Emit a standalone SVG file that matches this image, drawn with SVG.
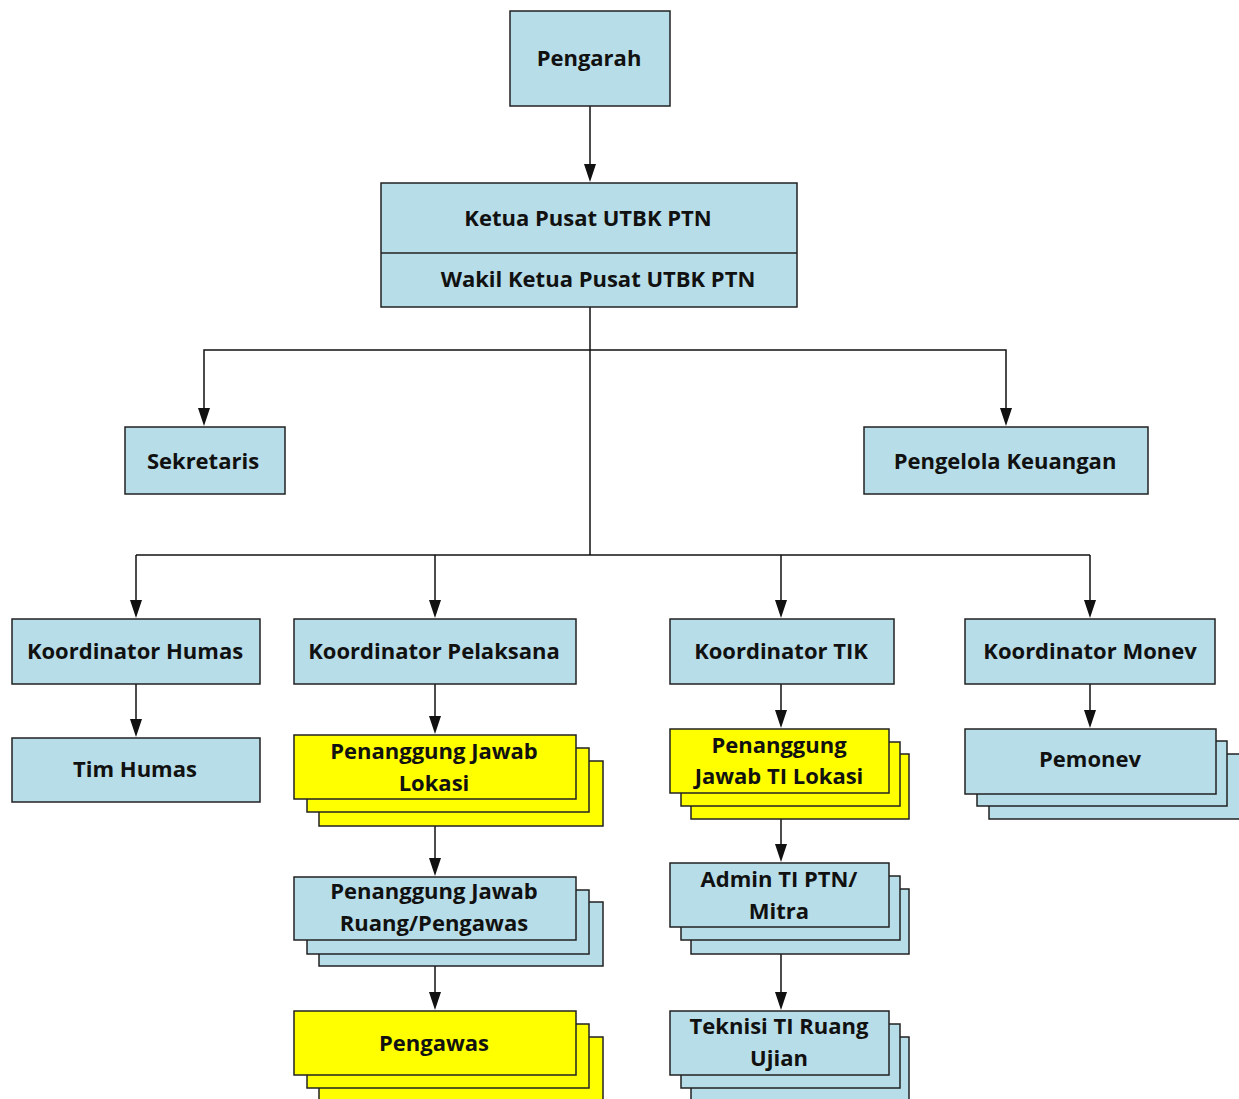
<svg xmlns="http://www.w3.org/2000/svg" width="1239" height="1099" viewBox="0 0 1239 1099">
  <style>
    .box { fill: #b7dde8; stroke: #222; stroke-width: 1.5; }
    .yel { fill: #ffff00; stroke: #222; stroke-width: 1.5; }
    .lbl { font-family: "Open Sans", "Liberation Sans", sans-serif; font-weight: bold; font-size: 22px; fill: #111; text-anchor: middle; dominant-baseline: central; }
    .wire { fill: none; stroke: #111; stroke-width: 1.5; }
  </style>

  <!-- connectors -->
  <g id="connectors" class="wire">
    <line x1="590" y1="106" x2="590" y2="166"/>
    <line x1="590" y1="307" x2="590" y2="555"/>
    <polyline points="204,410 204,350 1006,350 1006,410"/>
    <polyline points="136,555 1090,555"/>
    <line x1="136" y1="555" x2="136" y2="602"/>
    <line x1="435" y1="555" x2="435" y2="602"/>
    <line x1="781" y1="555" x2="781" y2="602"/>
    <line x1="1090" y1="555" x2="1090" y2="602"/>
    <line x1="136" y1="684" x2="136" y2="721"/>
    <line x1="435" y1="684" x2="435" y2="718"/>
    <line x1="435" y1="826" x2="435" y2="860"/>
    <line x1="435" y1="966" x2="435" y2="994"/>
    <line x1="781" y1="684" x2="781" y2="712"/>
    <line x1="781" y1="819" x2="781" y2="846"/>
    <line x1="781" y1="954" x2="781" y2="994"/>
    <line x1="1090" y1="684" x2="1090" y2="712"/>
  </g>
  <!-- arrowheads -->
  <g id="heads" fill="#111">
    <path d="M584,164 L596,164 L590,182 Z"/>
    <path d="M198,408 L210,408 L204,426 Z"/>
    <path d="M1000,408 L1012,408 L1006,426 Z"/>
    <path d="M130,600 L142,600 L136,618 Z"/>
    <path d="M429,600 L441,600 L435,618 Z"/>
    <path d="M775,600 L787,600 L781,618 Z"/>
    <path d="M1084,600 L1096,600 L1090,618 Z"/>
    <path d="M130,719 L142,719 L136,737 Z"/>
    <path d="M429,716 L441,716 L435,734 Z"/>
    <path d="M429,858 L441,858 L435,876 Z"/>
    <path d="M429,992 L441,992 L435,1010 Z"/>
    <path d="M775,710 L787,710 L781,728 Z"/>
    <path d="M775,844 L787,844 L781,862 Z"/>
    <path d="M775,992 L787,992 L781,1010 Z"/>
    <path d="M1084,710 L1096,710 L1090,728 Z"/>
  </g>

  <g id="pengarah">
    <rect class="box" x="510" y="11" width="160" height="95"/>
    <text class="lbl" x="589" y="57">Pengarah</text>
  </g>

  <g id="ketua">
    <rect class="box" x="381" y="183" width="416" height="124"/>
    <line x1="381" y1="253" x2="797" y2="253" stroke="#222" stroke-width="1.5"/>
    <text class="lbl" x="588" y="217">Ketua Pusat UTBK PTN</text>
    <text class="lbl" x="598" y="278">Wakil Ketua Pusat UTBK PTN</text>
  </g>

  <g id="sekretaris">
    <rect class="box" x="125" y="427" width="160" height="67"/>
    <text class="lbl" x="203" y="460">Sekretaris</text>
  </g>

  <g id="keuangan">
    <rect class="box" x="864" y="427" width="284" height="67"/>
    <text class="lbl" x="1005" y="460">Pengelola Keuangan</text>
  </g>

  <g id="koord-humas">
    <rect class="box" x="12" y="619" width="248" height="65"/>
    <text class="lbl" x="135" y="650">Koordinator Humas</text>
  </g>

  <g id="koord-pelaksana">
    <rect class="box" x="294" y="619" width="282" height="65"/>
    <text class="lbl" x="434" y="650">Koordinator Pelaksana</text>
  </g>

  <g id="koord-tik">
    <rect class="box" x="670" y="619" width="224" height="65"/>
    <text class="lbl" x="781" y="650">Koordinator TIK</text>
  </g>

  <g id="koord-monev">
    <rect class="box" x="965" y="619" width="250" height="65"/>
    <text class="lbl" x="1090" y="650">Koordinator Monev</text>
  </g>

  <g id="tim-humas">
    <rect class="box" x="12" y="738" width="248" height="64"/>
    <text class="lbl" x="135" y="768">Tim Humas</text>
  </g>

  <g id="pj-lokasi">
    <rect class="yel" x="319" y="761" width="284" height="65"/>
    <rect class="yel" x="307" y="748" width="282" height="64"/>
    <rect class="yel" x="294" y="735" width="282" height="64"/>
    <text class="lbl" x="434" y="750">Penanggung Jawab</text>
    <text class="lbl" x="434" y="782">Lokasi</text>
  </g>

  <g id="pj-ruang">
    <rect class="box" x="319" y="902" width="284" height="64"/>
    <rect class="box" x="307" y="890" width="282" height="64"/>
    <rect class="box" x="294" y="877" width="282" height="63"/>
    <text class="lbl" x="434" y="890">Penanggung Jawab</text>
    <text class="lbl" x="434" y="922">Ruang/Pengawas</text>
  </g>

  <g id="pengawas">
    <rect class="yel" x="319" y="1037" width="284" height="70"/>
    <rect class="yel" x="307" y="1024" width="282" height="64"/>
    <rect class="yel" x="294" y="1011" width="282" height="64"/>
    <text class="lbl" x="434" y="1042">Pengawas</text>
  </g>

  <g id="pj-ti-lokasi">
    <rect class="yel" x="691" y="754" width="218" height="65"/>
    <rect class="yel" x="681" y="742" width="219" height="64"/>
    <rect class="yel" x="670" y="729" width="219" height="64"/>
    <text class="lbl" x="779" y="744">Penanggung</text>
    <text class="lbl" x="779" y="775">Jawab TI Lokasi</text>
  </g>

  <g id="admin-ti">
    <rect class="box" x="691" y="889" width="218" height="65"/>
    <rect class="box" x="681" y="876" width="219" height="64"/>
    <rect class="box" x="670" y="863" width="219" height="64"/>
    <text class="lbl" x="779" y="878">Admin TI PTN/</text>
    <text class="lbl" x="779" y="910">Mitra</text>
  </g>

  <g id="teknisi">
    <rect class="box" x="691" y="1037" width="218" height="70"/>
    <rect class="box" x="681" y="1024" width="219" height="64"/>
    <rect class="box" x="670" y="1011" width="219" height="64"/>
    <text class="lbl" x="779" y="1025">Teknisi TI Ruang</text>
    <text class="lbl" x="779" y="1057">Ujian</text>
  </g>

  <g id="pemonev">
    <rect class="box" x="989" y="754" width="260" height="65"/>
    <rect class="box" x="977" y="741" width="250" height="65"/>
    <rect class="box" x="965" y="729" width="251" height="65"/>
    <text class="lbl" x="1090" y="758">Pemonev</text>
  </g>
</svg>
